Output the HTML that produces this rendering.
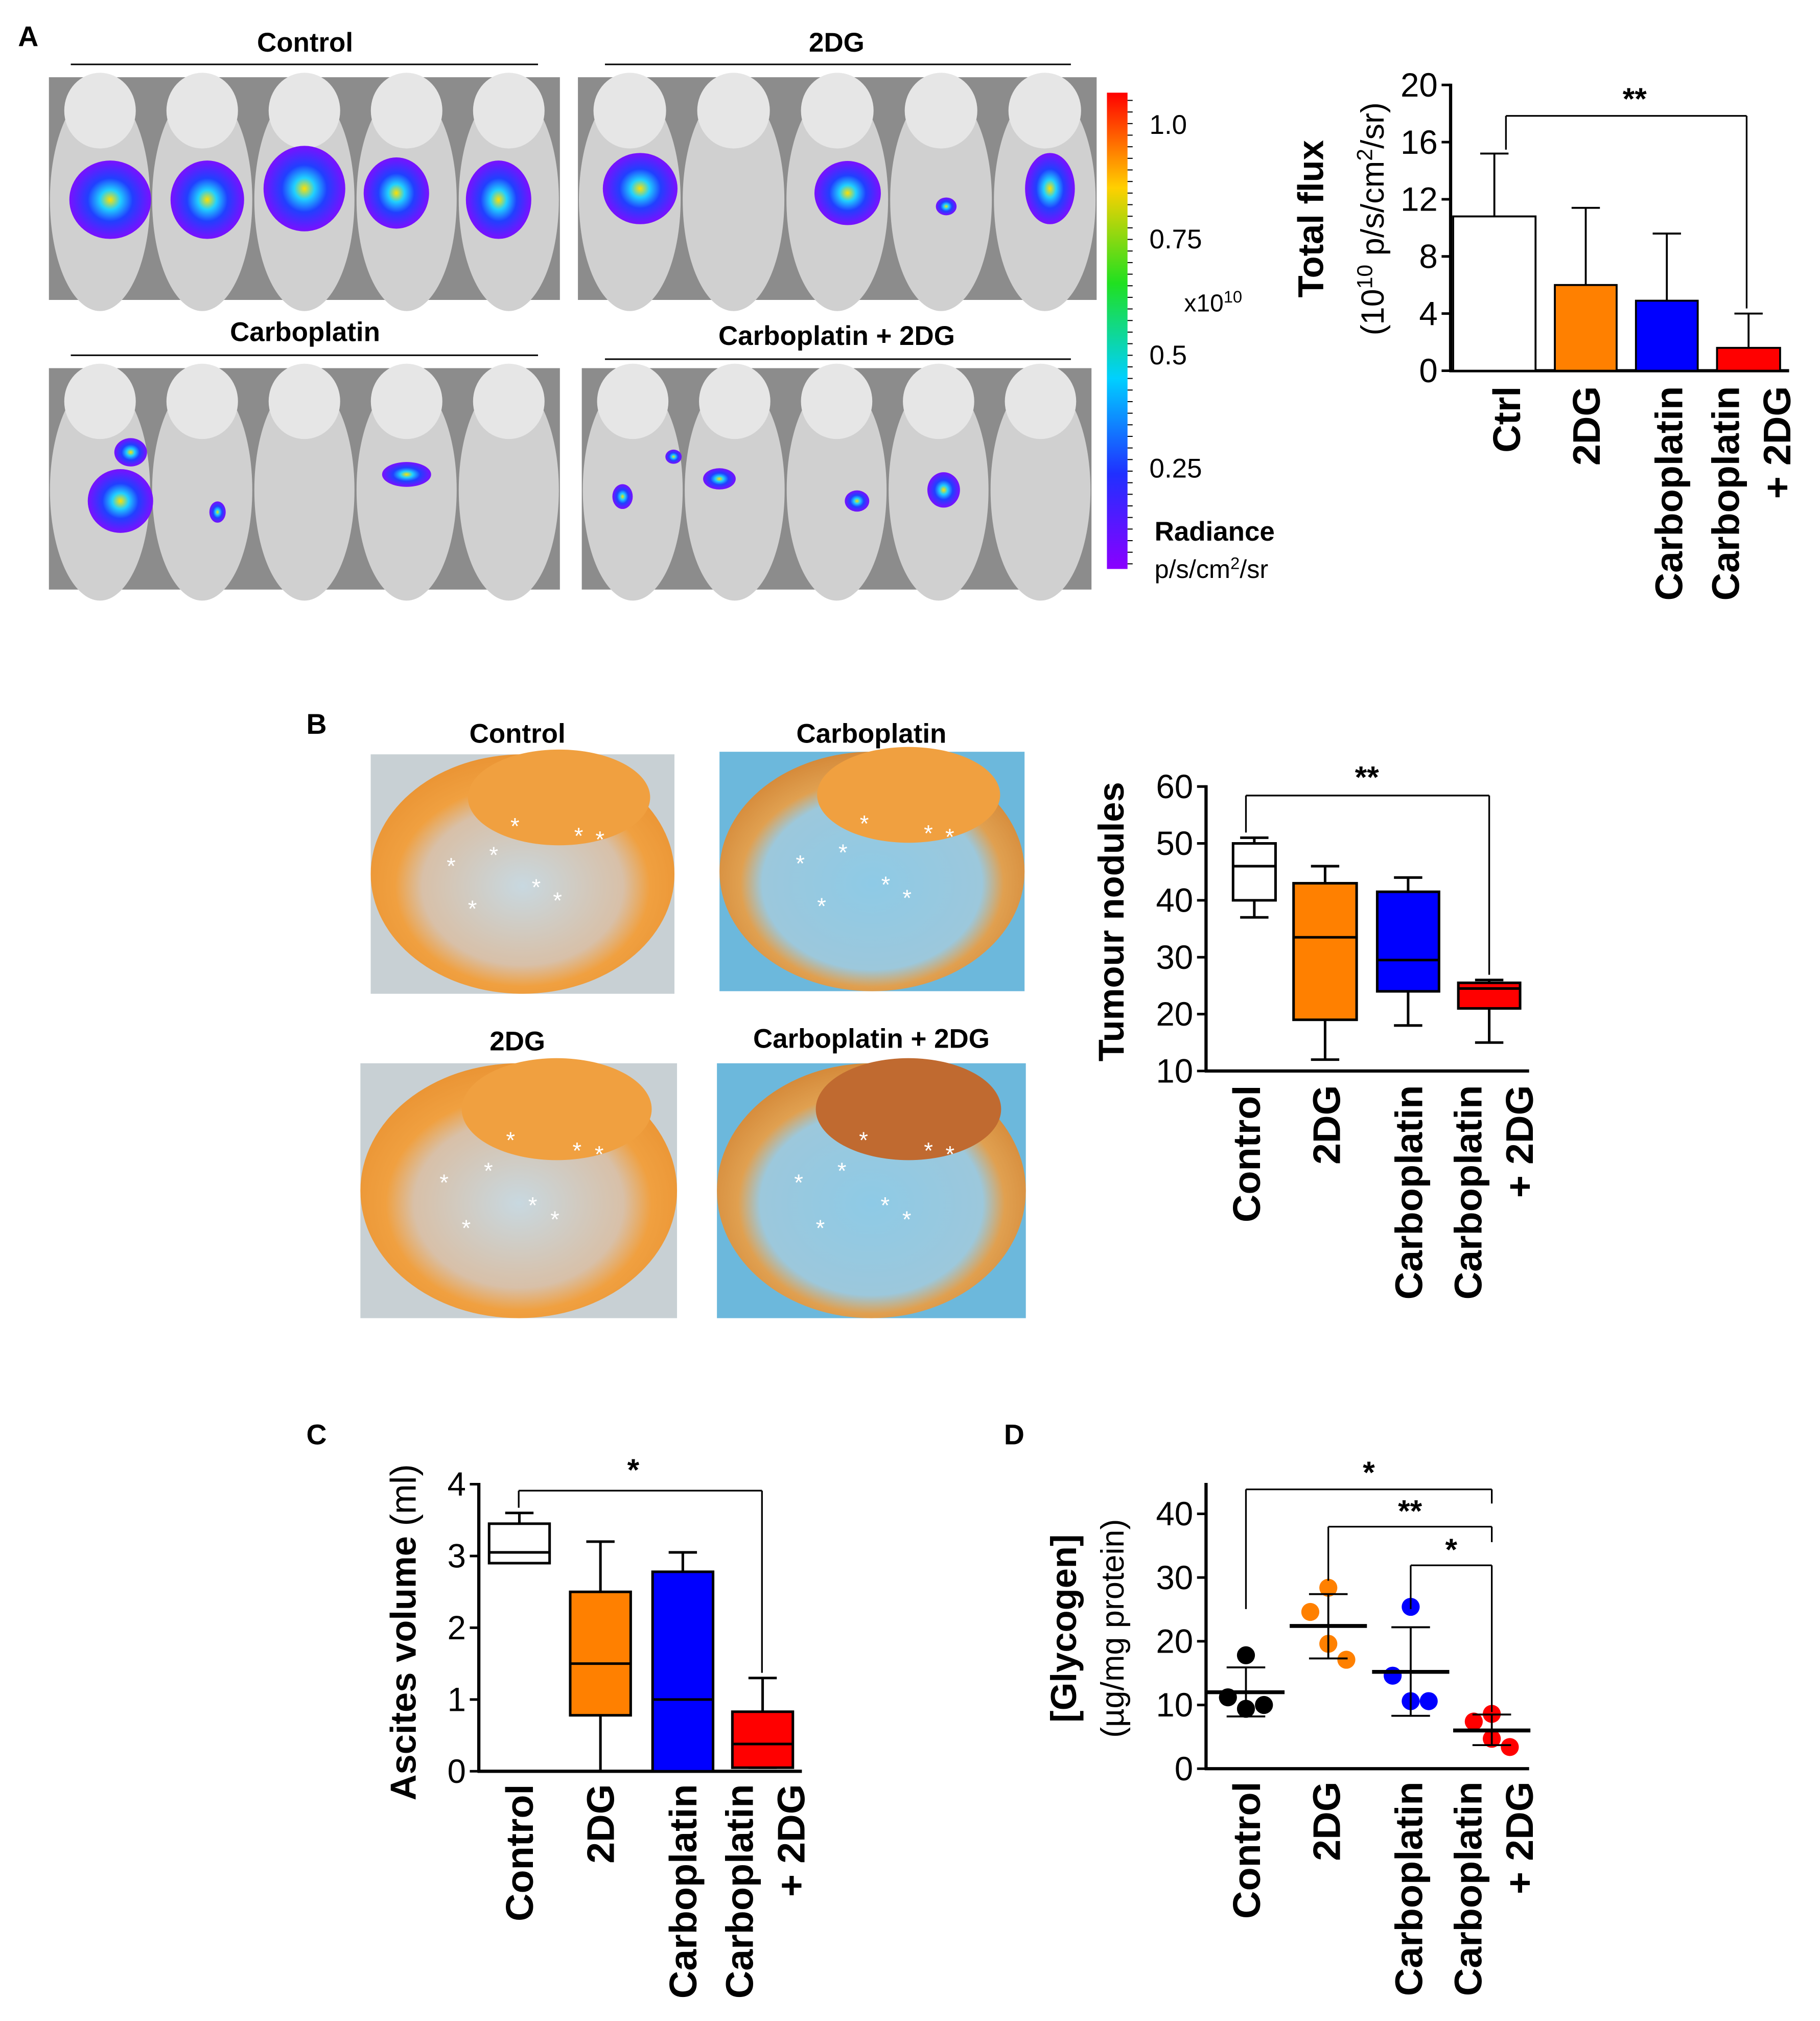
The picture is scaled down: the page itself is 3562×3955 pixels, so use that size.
<!DOCTYPE html>
<html><head><meta charset="utf-8"><style>
html,body{margin:0;padding:0;background:#fff;}
svg{display:block;font-family:"Liberation Sans",Arial,sans-serif;}
</style></head><body>
<svg id="fig" xmlns="http://www.w3.org/2000/svg" width="3562" height="3955" viewBox="0 0 1414 1570" preserveAspectRatio="none">
<defs>
<linearGradient id="cbar" x1="0" y1="1" x2="0" y2="0">
<stop offset="0" stop-color="#8a00ff"/><stop offset="0.2" stop-color="#2030ff"/><stop offset="0.4" stop-color="#00d0ff"/><stop offset="0.6" stop-color="#20e020"/><stop offset="0.8" stop-color="#ffd000"/><stop offset="1" stop-color="#ff0000"/>
</linearGradient>
<radialGradient id="blob"><stop offset="0" stop-color="#ffe000"/><stop offset="0.25" stop-color="#20d0ff"/><stop offset="0.55" stop-color="#2040ff"/><stop offset="1" stop-color="#7a10ff"/></radialGradient>
<radialGradient id="gut" cx="0.5" cy="0.55" r="0.6"><stop offset="0" stop-color="#c8d8e0"/><stop offset="0.55" stop-color="#d8c0a8"/><stop offset="0.7" stop-color="#f0a040"/><stop offset="1" stop-color="#e89030"/></radialGradient>
<radialGradient id="gutb" cx="0.5" cy="0.55" r="0.6"><stop offset="0" stop-color="#8ecae6"/><stop offset="0.6" stop-color="#9cc8dc"/><stop offset="0.72" stop-color="#e0a050"/><stop offset="1" stop-color="#d08030"/></radialGradient>
</defs>
<g id="root"></g>
</svg>
<script>
// ---------- data ----------
const fluxCats = ["Ctrl","2DG","Carboplatin","Carboplatin + 2DG"];
const fluxMeans = [10.8, 6.0, 4.9, 1.6];
const fluxErr = [15.2, 11.4, 9.6, 4.0];
const fluxTicks = [0,4,8,12,16,20];

const nodCats = ["Control","2DG","Carboplatin","Carboplatin + 2DG"];
const nodMin = [37, 12, 18, 15];
const nodQ1 = [40, 19, 24, 21];
const nodMed = [46, 33.5, 29.5, 24.5];
const nodQ3 = [50, 43, 41.5, 25.5];
const nodMax = [51, 46, 44, 26];
const nodTicks = [10,20,30,40,50,60];

const ascCats = ["Control","2DG","Carboplatin","Carboplatin + 2DG"];
const ascMin = [2.9, 0, 0, 0.05];
const ascQ1 = [2.9, 0.78, 0, 0.05];
const ascMed = [3.05, 1.5, 1.0, 0.38];
const ascQ3 = [3.45, 2.5, 2.78, 0.83];
const ascMax = [3.6, 3.2, 3.05, 1.3];
const ascTicks = [0,1,2,3,4];

const glyCats = ["Control","2DG","Carboplatin","Carboplatin + 2DG"];
const glyPoints = [[17.8, 11.2, 9.4, 10.0],[28.4, 24.6, 19.6, 17.1],[25.4, 14.6, 10.6, 10.6],[8.6, 7.4, 4.7, 3.4]];
const glyMean = [12, 22.4, 15.2, 6];
const glyLo = [8.2, 17.3, 8.3, 3.7];
const glyHi = [15.9, 27.4, 22.2, 8.5];
const glyTicks = [0,10,20,30,40];

const colors = ["#ffffff","#ff8000","#0000ff","#ff0000"];
const dotColors = ["#000000","#ff8000","#0000ff","#ff0000"];

// ---------- helpers ----------
const NS="http://www.w3.org/2000/svg";
const root=document.getElementById('root');
function mk(tag, attrs, parent, txt){
  const e=document.createElementNS(NS,tag);
  for(const k in attrs) e.setAttribute(k, attrs[k]);
  if(txt!==undefined) e.textContent=txt;
  (parent||root).appendChild(e);
  return e;
}
function grp(name,parent){
  const g=mk('g',{},parent);
  
  
  return g;
}
function label(x,y,t,size,opts,parent,name){
  const a=Object.assign({x:x,y:y,'font-size':size,fill:'#000'},opts||{});
  const e=mk('text',a,parent,t);
  
  
  return e;
}
function line(x1,y1,x2,y2,w,parent,col){
  return mk('line',{x1:x1,y1:y1,x2:x2,y2:y2,stroke:col||'#000','stroke-width':w||2},parent);
}
function rotLabel(cx,yTop,t,size,parent,name){
  return label(cx,yTop,t,size,{'text-anchor':'end','font-weight':'bold',transform:'rotate(-90 '+cx+' '+yTop+')'},parent,name);
}

// ---------- Panel A images ----------
const pa=grp('panel-a');
label(14,36,'A',22,{'font-weight':'bold'},pa,'panel-a-letter');
const mousePanels=[
 {t:'Control',tx:237,ty:40,lx1:55,lx2:418,ly:50,x:38,y:60,w:397,h:173,blobs:[[0.12,0.55,0.1,0.22],[0.31,0.55,0.09,0.22],[0.5,0.5,0.1,0.24],[0.68,0.52,0.08,0.2],[0.88,0.55,0.08,0.22]]},
 {t:'2DG',tx:650,ty:40,lx1:470,lx2:832,ly:50,x:449,y:60,w:403,h:173,blobs:[[0.12,0.5,0.09,0.2],[0.52,0.52,0.08,0.18],[0.71,0.58,0.025,0.05],[0.91,0.5,0.06,0.2]]},
 {t:'Carboplatin',tx:237,ty:265,lx1:55,lx2:418,ly:276,x:38,y:286,w:397,h:172,blobs:[[0.14,0.6,0.08,0.18],[0.33,0.65,0.02,0.06],[0.7,0.48,0.06,0.07],[0.16,0.38,0.04,0.08]]},
 {t:'Carboplatin + 2DG',tx:650,ty:268,lx1:470,lx2:832,ly:279,x:452,y:286,w:396,h:172,blobs:[[0.08,0.58,0.025,0.07],[0.27,0.5,0.04,0.06],[0.54,0.6,0.03,0.06],[0.71,0.55,0.04,0.1],[0.18,0.4,0.02,0.04]]}
];
mousePanels.forEach((p,i)=>{
  const g=grp('mouse-image-'+i,pa);
  label(p.tx,p.ty,p.t,21,{'font-weight':'bold','text-anchor':'middle'},g,'mouse-image-title');
  line(p.lx1,p.ly,p.lx2,p.ly,1.2,g);
  mk('rect',{x:p.x,y:p.y,width:p.w,height:p.h,fill:'#8c8c8c'},g);
  for(let k=0;k<5;k++){
    const cx=p.x+p.w*(0.1+0.2*k);
    mk('ellipse',{cx:cx,cy:p.y+p.h*0.55,rx:p.w*0.098,ry:p.h*0.5,fill:'#d0d0d0'},g);
    mk('ellipse',{cx:cx,cy:p.y+p.h*0.15,rx:p.w*0.07,ry:p.h*0.17,fill:'#e6e6e6'},g);
  }
  p.blobs.forEach(b=>{
    mk('ellipse',{cx:p.x+p.w*b[0],cy:p.y+p.h*b[1],rx:p.w*b[2]/2*1.6,ry:p.h*b[3]/2*1.6,fill:'url(#blob)'},g);
  });
});
// colorbar
const cb=grp('colorbar',pa);
mk('rect',{x:860,y:72,width:16,height:370,fill:'url(#cbar)'},cb);
for(let y=78;y<442;y+=9) line(876,y,880,y,0.8,cb);
label(893,104,'1.0',21,{},cb,'colorbar-tick');
label(893,193,'0.75',21,{},cb,'colorbar-tick');
const xe=label(920,242,'x10',19,{},cb,'colorbar-exponent');
mk('tspan',{dy:-7,'font-size':13},xe,'10');
label(893,283,'0.5',21,{},cb,'colorbar-tick');
label(893,371,'0.25',21,{},cb,'colorbar-tick');
label(897,420,'Radiance',21,{'font-weight':'bold'},cb,'colorbar-title');
const un=label(897,449,'p/s/cm',20,{},cb,'colorbar-units');
mk('tspan',{dy:-7,'font-size':13},un,'2');
mk('tspan',{dy:7},un,'/sr');

// ---------- Panel A bar chart ----------
const ga=grp('flux-chart',pa);
const fx0=1127, fx1=1390, fy0=288, fy1=66, fmax=20;
const fy=v=>fy0-(fy0-fy1)*v/fmax;
const fBarX=[1129,1208,1271,1334], fBarW=[64,48,48,49];
line(fx0,fy(20)-1,fx0,fy0+1,2.5,ga);
line(fx0-1,fy0,fx1,fy0,2.5,ga);
fluxTicks.forEach(t=>{line(fx0-7,fy(t),fx0,fy(t),2,ga);label(fx0-10,fy(t)+9,String(t),26,{'text-anchor':'end'},ga,'y-tick-label');});
fluxCats.forEach((c,i)=>{
  const cx=fBarX[i]+fBarW[i]/2;
  line(cx,fy(fluxMeans[i]),cx,fy(fluxErr[i]),1.5,ga);
  line(cx-11,fy(fluxErr[i]),cx+11,fy(fluxErr[i]),1.5,ga);
  const r=mk('rect',{x:fBarX[i],y:fy(fluxMeans[i]),width:fBarW[i],height:fy0-fy(fluxMeans[i]),fill:colors[i],stroke:'#000','stroke-width':1.5},ga);
  
  
});
rotLabel(1181,300,'Ctrl',30,ga,'x-label');
rotLabel(1243,300,'2DG',30,ga,'x-label');
rotLabel(1307,300,'Carboplatin',30,ga,'x-label');
rotLabel(1351,300,'Carboplatin',30,ga,'x-label');
rotLabel(1391,300,'+ 2DG',30,ga,'x-label');
line(1170,fy(fluxErr[0])-3,1170,90,1.3,ga);line(1170,90,1357,90,1.3,ga);line(1357,90,1357,fy(fluxErr[3])-4,1.3,ga);
label(1270,85,'**',24,{'text-anchor':'middle','font-weight':'bold'},ga,'significance-label');
label(1028,170,'Total flux',28,{'text-anchor':'middle','font-weight':'bold',transform:'rotate(-90 1028 170)'},ga,'y-axis-title');
const yt2=label(1075,170,'(10',25,{'text-anchor':'middle',transform:'rotate(-90 1075 170)'},ga,'y-axis-units');
mk('tspan',{dy:-9,'font-size':17},yt2,'10');mk('tspan',{dy:9},yt2,' p/s/cm');mk('tspan',{dy:-9,'font-size':17},yt2,'2');mk('tspan',{dy:9},yt2,'/sr)');

// ---------- Panel B photos ----------
const pb=grp('panel-b');
label(238,570,'B',22,{'font-weight':'bold'},pb,'panel-b-letter');
const guts=[
 {t:'Control',tx:402,ty:577,x:288,y:586,w:236,h:186,f:'url(#gut)',bg:'#c8d0d4'},
 {t:'Carboplatin',tx:677,ty:577,x:559,y:584,w:237,h:186,f:'url(#gutb)',bg:'#6cb8dc'},
 {t:'2DG',tx:402,ty:816,x:280,y:826,w:246,h:198,f:'url(#gut)',bg:'#c8d0d4'},
 {t:'Carboplatin + 2DG',tx:677,ty:814,x:557,y:826,w:240,h:198,f:'url(#gutb)',bg:'#6cb8dc'}
];
guts.forEach((p,i)=>{
  const g=grp('mesentery-photo-'+i,pb);
  label(p.tx,p.ty,p.t,21,{'font-weight':'bold','text-anchor':'middle'},g,'photo-title');
  mk('rect',{x:p.x,y:p.y,width:p.w,height:p.h,fill:p.bg},g);
  mk('ellipse',{cx:p.x+p.w/2,cy:p.y+p.h*0.5,rx:p.w*0.5,ry:p.h*0.5,fill:p.f},g);
  mk('ellipse',{cx:p.x+p.w*0.62,cy:p.y+p.h*0.18,rx:p.w*0.3,ry:p.h*0.2,fill:i===3?'#c06a30':'#f0a040'},g);
  for(let k=0;k<8;k++){
    label(p.x+p.w*(0.25+0.07*k),p.y+p.h*(0.5+0.18*Math.sin(k*1.7)),'*',18,{fill:'#fff'},g,'nodule-marker');
  }
});

// ---------- Panel B box chart ----------
const gb=grp('nodules-chart',pb);
const bx0=937,bx1=1188,by0=832,by1=611;
const by=v=>by0-(by0-by1)*(v-10)/50;
const bBoxX=[958,1005,1070,1133], bBoxW=[33,49,48,48];
line(bx0,by1-1,bx0,by0+1,2.5,gb);line(bx0-1,by0,bx1,by0,2.5,gb);
nodTicks.forEach(t=>{line(bx0-7,by(t),bx0,by(t),2,gb);label(bx0-10,by(t)+9,String(t),26,{'text-anchor':'end'},gb,'y-tick-label');});
function boxes(g,cats,mn,q1,md,q3,mx,yf,bxs,bws,nm){
  cats.forEach((c,i)=>{
    const cx=bxs[i]+bws[i]/2;
    line(cx,yf(mx[i]),cx,yf(mn[i]),2,g);
    line(cx-11,yf(mx[i]),cx+11,yf(mx[i]),2,g);
    line(cx-11,yf(mn[i]),cx+11,yf(mn[i]),2,g);
    const r=mk('rect',{x:bxs[i],y:yf(q3[i]),width:bws[i],height:Math.max(1,yf(q1[i])-yf(q3[i])),fill:colors[i],stroke:'#000','stroke-width':2},g);
    
    
    line(bxs[i],yf(md[i]),bxs[i]+bws[i],yf(md[i]),2,g);
  });
}
boxes(gb,nodCats,nodMin,nodQ1,nodMed,nodQ3,nodMax,by,bBoxX,bBoxW,'nodules');
line(968,by(nodMax[0])-4,968,618,1.3,gb);line(968,618,1157,618,1.3,gb);line(1157,618,1157,by(nodMax[3])-4,1.3,gb);
label(1062,612,'**',24,{'text-anchor':'middle','font-weight':'bold'},gb,'significance-label');
label(873,716,'Tumour nodules',28,{'text-anchor':'middle','font-weight':'bold',transform:'rotate(-90 873 716)'},gb,'y-axis-title');
rotLabel(979,843,'Control',30,gb,'x-label');
rotLabel(1041,843,'2DG',30,gb,'x-label');
rotLabel(1105,843,'Carboplatin',30,gb,'x-label');
rotLabel(1151,843,'Carboplatin',30,gb,'x-label');
rotLabel(1191,843,'+ 2DG',30,gb,'x-label');

// ---------- Panel C ----------
const pc=grp('panel-c');
label(238,1122,'C',22,{'font-weight':'bold'},pc,'panel-c-letter');
const cx0=372,cx1=623,cy0=1376,cy1=1153;
const cy=v=>cy0-(cy0-cy1)*v/4;
const cBoxX=[380,443,507,569], cBoxW=[47,47,47,47];
line(cx0,cy1-1,cx0,cy0+1,2.5,pc);line(cx0-1,cy0,cx1,cy0,2.5,pc);
ascTicks.forEach(t=>{line(cx0-7,cy(t),cx0,cy(t),2,pc);label(cx0-10,cy(t)+9,String(t),26,{'text-anchor':'end'},pc,'y-tick-label');});
boxes(pc,ascCats,ascMin,ascQ1,ascMed,ascQ3,ascMax,cy,cBoxX,cBoxW,'ascites');
line(403,cy(ascMax[0])-4,403,1158,1.3,pc);line(403,1158,592,1158,1.3,pc);line(592,1158,592,cy(ascMax[3])-4,1.3,pc);
label(492,1150,'*',24,{'text-anchor':'middle','font-weight':'bold'},pc,'significance-label');
const ct=label(323,1268,'Ascites volume',28,{'text-anchor':'middle','font-weight':'bold',transform:'rotate(-90 323 1268)'},pc,'y-axis-title');
mk('tspan',{'font-weight':'normal'},ct,' (ml)');
rotLabel(414,1386,'Control',30,pc,'x-label');
rotLabel(477,1386,'2DG',30,pc,'x-label');
rotLabel(541,1386,'Carboplatin',30,pc,'x-label');
rotLabel(585,1386,'Carboplatin',30,pc,'x-label');
rotLabel(625,1386,'+ 2DG',30,pc,'x-label');

// ---------- Panel D ----------
const pd=grp('panel-d');
label(780,1122,'D',22,{'font-weight':'bold'},pd,'panel-d-letter');
const dx0=937,dx1=1188,dy0=1374,dy1=1176;
const dy=v=>dy0-(dy0-dy1)*v/40;
const dCx=[968,1032,1096,1159];
line(dx0,1152,dx0,dy0+1,2.5,pd);line(dx0-1,dy0,dx1,dy0,2.5,pd);
glyTicks.forEach(t=>{line(dx0-7,dy(t),dx0,dy(t),2,pd);label(dx0-10,dy(t)+9,String(t),26,{'text-anchor':'end'},pd,'y-tick-label');});
const offs=[0,-14,0,14];
glyCats.forEach((c,i)=>{
  const g=grp('glycogen-group-'+i,pd);
  glyPoints[i].forEach((v,k)=>{
    const dot=mk('circle',{cx:dCx[i]+offs[k]*(k===2&&i>=2?-0.3:1),cy:dy(v),r:7,fill:dotColors[i]},g);
    
    
  });
  line(dCx[i],dy(glyLo[i]),dCx[i],dy(glyHi[i]),1.5,g);
  line(dCx[i]-15,dy(glyLo[i]),dCx[i]+15,dy(glyLo[i]),1.5,g);
  line(dCx[i]-15,dy(glyHi[i]),dCx[i]+15,dy(glyHi[i]),1.5,g);
  line(dCx[i]-30,dy(glyMean[i]),dCx[i]+30,dy(glyMean[i]),3,g);
});
function brk(x1,x2,y,yl,yr,t,ty){
  line(x1,yl,x1,y,1.3,pd);line(x1,y,x2,y,1.3,pd);line(x2,y,x2,yr,1.3,pd);
  label((x1+x2)/2,ty,t,24,{'text-anchor':'middle','font-weight':'bold'},pd,'significance-label');
}
brk(968,1159,1157,1250,1168,'*',1152);
brk(1032,1159,1186,1228,1198,'**',1182);
brk(1096,1159,1216,1250,1330,'*',1212);
label(836,1265,'[Glycogen]',28,{'text-anchor':'middle','font-weight':'bold',transform:'rotate(-90 836 1265)'},pd,'y-axis-title');
label(873,1265,'(µg/mg protein)',25,{'text-anchor':'middle',transform:'rotate(-90 873 1265)'},pd,'y-axis-units');
rotLabel(979,1384,'Control',30,pd,'x-label');
rotLabel(1041,1384,'2DG',30,pd,'x-label');
rotLabel(1105,1384,'Carboplatin',30,pd,'x-label');
rotLabel(1151,1384,'Carboplatin',30,pd,'x-label');
rotLabel(1191,1384,'+ 2DG',30,pd,'x-label');
</script>
</body></html>
